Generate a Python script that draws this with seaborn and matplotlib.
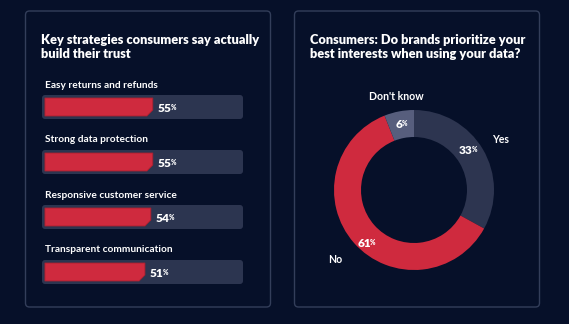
import numpy as np
import pandas as pd
import matplotlib
matplotlib.use("Agg")
import matplotlib.pyplot as plt
from matplotlib.patches import FancyBboxPatch, Polygon
import seaborn as sns

# ---- data -------------------------------------------------------------
strategies = ["Easy returns and refunds", "Strong data protection",
              "Responsive customer service", "Transparent communication"]
strategy_pct = [55, 55, 54, 51]

answers = ["Yes", "No", "Don't know"]
answer_pct = [33, 61, 6]

left_title = "Key strategies consumers say actually\nbuild their trust"
right_title = "Consumers: Do brands prioritize your\nbest interests when using your data?"

# ---- style ------------------------------------------------------------
BG = "#061029"
BORDER = "#333e5a"
RED = "#cf2a3e"
TRACK = "#2c3550"
SLATE = "#2d3550"
LIGHT_SLATE = "#575e7d"
WHITE = "#ffffff"

# per-slice label placement (radius of name label, nudges of value label)
name_radius = [1.25, 1.31, 1.19]
value_nudge = [(-0.07, 0.08), (0.05, -0.08), (0.0, 0.0)]

sns.set_theme(style="white")
plt.rcParams["font.family"] = ["Lato", "DejaVu Sans"]

W, H = 569, 324
fig = plt.figure(figsize=(W / 100, H / 100), dpi=100, facecolor=BG)


def fig_rect(x0, y0, x1, y1):
    """Pixel box (top-left origin) -> figure fraction rect."""
    return [x0 / W, 1 - y1 / H, (x1 - x0) / W, (y1 - y0) / H]


# background layer with the two card outlines and titles
bg = fig.add_axes([0, 0, 1, 1])
bg.set_xlim(0, W)
bg.set_ylim(H, 0)
bg.axis("off")
bg.set_facecolor(BG)
for x0, x1 in [(25.5, 270.5), (294.5, 539.5)]:
    bg.add_patch(FancyBboxPatch((x0 + 4, 11 + 4), x1 - x0 - 8, 296 - 8,
                                boxstyle="round,pad=4", fc=BG, ec=BORDER, lw=1.0))
bg.text(41, 47, left_title, color=WHITE, fontsize=9.2, fontweight="heavy",
        va="center", ha="left", linespacing=1.2)
bg.text(310, 47, right_title, color=WHITE, fontsize=9.2, fontweight="heavy",
        va="center", ha="left", linespacing=1.2)

# ---- left: horizontal bars ---------------------------------------------
df = pd.DataFrame({"strategy": strategies, "pct": strategy_pct})
ax = fig.add_axes(fig_rect(42, 79.5, 243, 299.5))
ax.set_facecolor("none")
sns.barplot(data=df, x="pct", y="strategy", orient="h", color=RED,
            width=18 / 55, saturation=1, ax=ax, linewidth=0)
ax.set_xlim(-1.5, 101)
ax.set_ylim(3.5, -0.5)
ax.axis("off")

# rounded tracks behind each bar (rounding in display pixels)
px_x = 102.5 / 201  # data units per pixel along x
px_y = 4 / 220      # data units per pixel along y
for i in range(len(strategies)):
    pad = 3
    ax.add_patch(FancyBboxPatch((-1.5 + pad * px_x, i - 12 / 55 + pad * px_y),
                                102.5 - 2 * pad * px_x, 24 / 55 - 2 * pad * px_y,
                                boxstyle=f"round,pad={pad * px_x},rounding_size={pad * px_x}",
                                mutation_aspect=px_y / px_x, fc=TRACK, ec="none", zorder=0))

# turn bars into shapes with a clipped lower-right corner
cut_x = 3.0
cut_y = 6 / 55
for bar in list(ax.patches):
    if isinstance(bar, FancyBboxPatch):
        continue
    x0, y0 = bar.get_x(), bar.get_y()
    w, h = bar.get_width(), bar.get_height()
    y_top, y_bot = y0, y0 + h
    poly = Polygon([(x0, y_top), (x0 + w, y_top), (x0 + w, y_bot - cut_y),
                    (x0 + w - cut_x, y_bot), (x0, y_bot)], closed=True,
                   fc=RED, ec="#a8202f", lw=0.6, zorder=2)
    bar.set_visible(False)
    ax.add_patch(poly)

fig.canvas.draw()
renderer = fig.canvas.get_renderer()


def value_with_percent(axis, x, y, number, size, ha="left"):
    t = axis.text(x, y, f"{number}", color=WHITE, fontsize=size, fontweight="heavy",
                  ha=ha, va="center", zorder=5, clip_on=False)
    bb = t.get_window_extent(renderer=renderer)
    inv = axis.transData.inverted()
    px, py = inv.transform((bb.x1 - 0.6, bb.y1 - 1.0))
    axis.text(px, py, "%", color=WHITE, fontsize=size * 0.55, fontweight="heavy",
              ha="left", va="top", zorder=5, clip_on=False)


for i, (name, v) in enumerate(zip(strategies, strategy_pct)):
    ax.text(0.0, i - 0.40, name, color=WHITE, fontsize=7.3, fontweight="bold",
            ha="left", va="center", clip_on=False)
    value_with_percent(ax, v + 2.3, i + 0.02, v, 8.6)

# ---- right: donut ----------------------------------------------------
pax = fig.add_axes(fig_rect(334, 110, 494, 270))
pax.set_facecolor("none")
wedges, _ = pax.pie(answer_pct, colors=[SLATE, RED, LIGHT_SLATE], startangle=90,
                    counterclock=False, radius=1.0,
                    wedgeprops=dict(width=27 / 80, edgecolor="none"))
pax.set_xlim(-1, 1)
pax.set_ylim(-1, 1)
pax.set_aspect("equal")
pax.axis("off")

fig.canvas.draw()
renderer = fig.canvas.get_renderer()
for w, name, v, r_out, (dx, dy) in zip(wedges, answers, answer_pct, name_radius, value_nudge):
    mid = np.deg2rad((w.theta1 + w.theta2) / 2)
    r_in = 0.86
    value_with_percent(pax, r_in * np.cos(mid) - 0.03 + dx, r_in * np.sin(mid) - 0.02 + dy,
                       v, 8.6, ha="center")
    pax.text(r_out * np.cos(mid), r_out * np.sin(mid), name, color=WHITE,
             fontsize=7.6, fontweight="bold", ha="center", va="center", clip_on=False)

fig.savefig("out.png", dpi=100, facecolor=BG)
